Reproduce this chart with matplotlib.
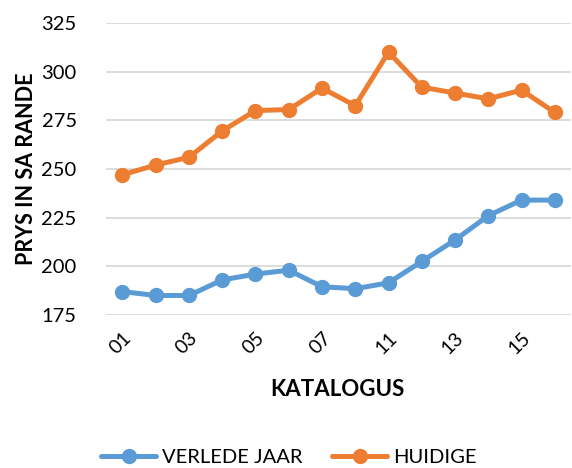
import matplotlib.pyplot as plt

# catalogue numbers (only every second one is labelled on the axis)
katalogus = ['01', '02', '03', '04', '05', '06', '07', '09', '11', '12', '13', '14', '15', '16']
verlede_jaar = [187, 185, 185, 193, 196, 198, 189.5, 188.5, 191.5, 202.5, 213.5, 226, 234, 234]
huidige = [247, 252, 256, 269.5, 280, 280.5, 291.5, 282.5, 310, 292, 289, 286, 290.5, 279]

plt.rcParams['font.family'] = ['Lato', 'DejaVu Sans']

fig = plt.figure(figsize=(5.72, 4.68), dpi=100)
ax = fig.add_axes([0.185, 0.327, 0.814, 0.624])

x = list(range(len(katalogus)))
ax.plot(x, verlede_jaar, color='#5B9BD5', lw=3.6, marker='o', ms=10,
        label='VERLEDE JAAR', solid_capstyle='round')
ax.plot(x, huidige, color='#ED7D31', lw=3.6, marker='o', ms=10,
        label='HUIDIGE', solid_capstyle='round')

ax.set_xlim(-0.5, len(katalogus) - 0.5)
ax.set_ylim(175, 325)
ax.set_yticks(range(175, 326, 25))
ax.set_xticks(x[::2])
ax.set_xticklabels(katalogus[::2], rotation=45, ha='right', va='top',
                   rotation_mode='anchor', fontsize=14)
ax.tick_params(axis='y', labelsize=14.5, length=0, pad=21)
ax.tick_params(axis='x', length=0, pad=10)

ax.grid(axis='y', color='#D9D9D9', lw=1.3)
ax.set_axisbelow(True)
for s in ax.spines.values():
    s.set_visible(False)

ax.set_ylabel('PRYS IN SA RANDE', fontsize=15.5, fontweight='bold', labelpad=3)
fig.text(0.59, 0.167, 'KATALOGUS', fontsize=16, fontweight='bold', ha='center', va='center')

fig.legend(loc='center', bbox_to_anchor=(0.505, 0.022), ncol=2, frameon=False,
           fontsize=14.5, handlelength=2.7, columnspacing=1.5, handletextpad=0.3)

plt.savefig('out.png')
